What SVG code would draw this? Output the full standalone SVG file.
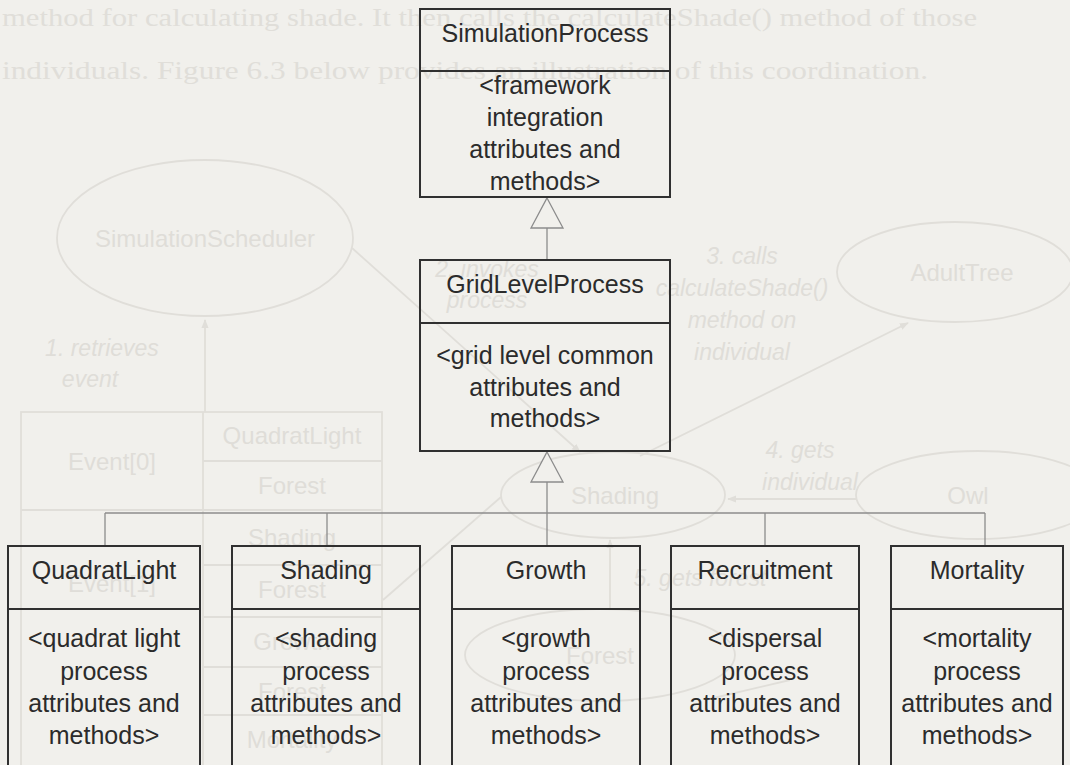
<svg xmlns="http://www.w3.org/2000/svg" width="1070" height="765" viewBox="0 0 1070 765">
  <defs>
    <style>
      .paper { fill: #f1f0ec; }
      .ghost-line { fill: none; stroke: #e0ded9; stroke-width: 1.8; }
      .ghost-text { fill: #dfddd8; font-family: "Liberation Sans", Arial, sans-serif; font-size: 24px; text-anchor: middle; }
      .ghost-note { fill: #dfddd8; font-family: "Liberation Sans", Arial, sans-serif; font-size: 23px; font-style: italic; text-anchor: middle; }
      .ghost-prose { fill: #e0ded9; font-family: "Liberation Serif", "Times New Roman", serif; font-size: 26px; }
      .box { fill: none; stroke: #303030; stroke-width: 2; }
      .label { fill: #2b2b2b; font-family: "Liberation Sans", Arial, sans-serif; font-size: 25px; text-anchor: middle; }
      .link { fill: none; stroke: #8c8c8c; stroke-width: 1.3; }
      .head { fill: #f1f0ec; stroke: #8c8c8c; stroke-width: 1.3; }
    </style>
    <marker id="ghostArrow" viewBox="0 0 10 10" refX="9" refY="5" markerWidth="9" markerHeight="9" orient="auto-start-reverse" markerUnits="userSpaceOnUse">
      <path d="M0,1 L10,5 L0,9 Z" fill="#e0ded9"/>
    </marker>
  </defs>

  <rect class="paper" x="0" y="0" width="1070" height="765"/>

  <!-- faint collaboration sketch printed on the reverse of the sheet -->
  <g id="reverse-side">
    <text class="ghost-prose" x="2" y="26" textLength="975" lengthAdjust="spacingAndGlyphs">method for calculating shade. It then calls the calculateShade() method of those</text>
    <text class="ghost-prose" x="2" y="79" textLength="926" lengthAdjust="spacingAndGlyphs">individuals. Figure 6.3 below provides an illustration of this coordination.</text>

    <ellipse class="ghost-line" cx="205" cy="238" rx="148" ry="78"/>
    <text class="ghost-text" x="205" y="247">SimulationScheduler</text>

    <ellipse class="ghost-line" cx="955" cy="272" rx="118" ry="50"/>
    <text class="ghost-text" x="962" y="281">AdultTree</text>

    <ellipse class="ghost-line" cx="613" cy="495" rx="112" ry="43"/>
    <text class="ghost-text" x="615" y="504">Shading</text>

    <ellipse class="ghost-line" cx="978" cy="495" rx="122" ry="44"/>
    <text class="ghost-text" x="968" y="504">Owl</text>

    <ellipse class="ghost-line" cx="600" cy="655" rx="135" ry="46"/>
    <text class="ghost-text" x="600" y="664">Forest</text>

    <!-- event queue table -->
    <rect class="ghost-line" x="21" y="412" width="361" height="360"/>
    <line class="ghost-line" x1="203" y1="412" x2="203" y2="772"/>
    <line class="ghost-line" x1="21" y1="510" x2="382" y2="510"/>
    <line class="ghost-line" x1="203" y1="461" x2="382" y2="461"/>
    <line class="ghost-line" x1="203" y1="565" x2="382" y2="565"/>
    <line class="ghost-line" x1="203" y1="617" x2="382" y2="617"/>
    <line class="ghost-line" x1="203" y1="667" x2="382" y2="667"/>
    <line class="ghost-line" x1="203" y1="715" x2="382" y2="715"/>
    <text class="ghost-text" x="112" y="470">Event[0]</text>
    <text class="ghost-text" x="112" y="592">Event[1]</text>
    <text class="ghost-text" x="292" y="444">QuadratLight</text>
    <text class="ghost-text" x="292" y="494">Forest</text>
    <text class="ghost-text" x="292" y="546">Shading</text>
    <text class="ghost-text" x="292" y="598">Forest</text>
    <text class="ghost-text" x="292" y="650">Growth</text>
    <text class="ghost-text" x="292" y="700">Forest</text>
    <text class="ghost-text" x="292" y="748">Mortality</text>

    <!-- message arrows -->
    <line class="ghost-line" x1="205" y1="412" x2="205" y2="320" marker-end="url(#ghostArrow)"/>
    <line class="ghost-line" x1="352" y1="248" x2="580" y2="452" marker-end="url(#ghostArrow)"/>
    <line class="ghost-line" x1="640" y1="456" x2="908" y2="323" marker-end="url(#ghostArrow)"/>
    <line class="ghost-line" x1="856" y1="499" x2="728" y2="499" marker-end="url(#ghostArrow)"/>
    <line class="ghost-line" x1="610" y1="609" x2="610" y2="540" marker-end="url(#ghostArrow)"/>
    <line class="ghost-line" x1="383" y1="600" x2="501" y2="497"/>
    <line class="ghost-line" x1="705" y1="700" x2="790" y2="680"/>

    <text class="ghost-note" x="102" y="356">1. retrieves</text>
    <text class="ghost-note" x="90" y="387">event</text>
    <text class="ghost-note" x="487" y="277">2. invokes</text>
    <text class="ghost-note" x="487" y="308">process</text>
    <text class="ghost-note" x="742" y="264">3. calls</text>
    <text class="ghost-note" x="742" y="296">calculateShade()</text>
    <text class="ghost-note" x="742" y="328">method on</text>
    <text class="ghost-note" x="742" y="360">individual</text>
    <text class="ghost-note" x="800" y="458">4. gets</text>
    <text class="ghost-note" x="810" y="490">individual</text>
    <text class="ghost-note" x="700" y="586">5. gets forest</text>
  </g>

  <!-- generalisation connectors -->
  <g id="connectors">
    <line class="link" x1="547" y1="228" x2="547" y2="260"/>
    <path class="head" d="M547,198 L563,228 L531,228 Z"/>
    <line class="link" x1="547" y1="482" x2="547" y2="546"/>
    <path class="head" d="M547,452 L563,482 L531,482 Z"/>
    <line class="link" x1="105" y1="513" x2="985" y2="513"/>
    <line class="link" x1="105" y1="513" x2="105" y2="546"/>
    <line class="link" x1="327" y1="513" x2="327" y2="546"/>
    <line class="link" x1="765" y1="513" x2="765" y2="546"/>
    <line class="link" x1="985" y1="513" x2="985" y2="546"/>
  </g>

  <g id="SimulationProcess">
    <rect class="box" x="420" y="9" width="250" height="188"/>
    <line class="box" x1="420" y1="71" x2="670" y2="71"/>
    <text class="label" x="545" y="42">SimulationProcess</text>
    <text class="label" x="545" y="94">&lt;framework</text>
    <text class="label" x="545" y="126">integration</text>
    <text class="label" x="545" y="158">attributes and</text>
    <text class="label" x="545" y="190">methods&gt;</text>
  </g>

  <g id="GridLevelProcess">
    <rect class="box" x="420" y="260" width="250" height="191"/>
    <line class="box" x1="420" y1="323" x2="670" y2="323"/>
    <text class="label" x="545" y="293">GridLevelProcess</text>
    <text class="label" x="545" y="364">&lt;grid level common</text>
    <text class="label" x="545" y="396">attributes and</text>
    <text class="label" x="545" y="427">methods&gt;</text>
  </g>

  <g id="QuadratLight">
    <rect class="box" x="8" y="546" width="192" height="240"/>
    <line class="box" x1="8" y1="609" x2="200" y2="609"/>
    <text class="label" x="104" y="579">QuadratLight</text>
    <text class="label" x="104" y="647">&lt;quadrat light</text>
    <text class="label" x="104" y="680">process</text>
    <text class="label" x="104" y="712">attributes and</text>
    <text class="label" x="104" y="744">methods&gt;</text>
  </g>

  <g id="Shading">
    <rect class="box" x="232" y="546" width="188" height="240"/>
    <line class="box" x1="232" y1="609" x2="420" y2="609"/>
    <text class="label" x="326" y="579">Shading</text>
    <text class="label" x="326" y="647">&lt;shading</text>
    <text class="label" x="326" y="680">process</text>
    <text class="label" x="326" y="712">attributes and</text>
    <text class="label" x="326" y="744">methods&gt;</text>
  </g>

  <g id="Growth">
    <rect class="box" x="452" y="546" width="188" height="240"/>
    <line class="box" x1="452" y1="609" x2="640" y2="609"/>
    <text class="label" x="546" y="579">Growth</text>
    <text class="label" x="546" y="647">&lt;growth</text>
    <text class="label" x="546" y="680">process</text>
    <text class="label" x="546" y="712">attributes and</text>
    <text class="label" x="546" y="744">methods&gt;</text>
  </g>

  <g id="Recruitment">
    <rect class="box" x="671" y="546" width="188" height="240"/>
    <line class="box" x1="671" y1="609" x2="859" y2="609"/>
    <text class="label" x="765" y="579">Recruitment</text>
    <text class="label" x="765" y="647">&lt;dispersal</text>
    <text class="label" x="765" y="680">process</text>
    <text class="label" x="765" y="712">attributes and</text>
    <text class="label" x="765" y="744">methods&gt;</text>
  </g>

  <g id="Mortality">
    <rect class="box" x="891" y="546" width="172" height="240"/>
    <line class="box" x1="891" y1="609" x2="1063" y2="609"/>
    <text class="label" x="977" y="579">Mortality</text>
    <text class="label" x="977" y="647">&lt;mortality</text>
    <text class="label" x="977" y="680">process</text>
    <text class="label" x="977" y="712">attributes and</text>
    <text class="label" x="977" y="744">methods&gt;</text>
  </g>
</svg>
